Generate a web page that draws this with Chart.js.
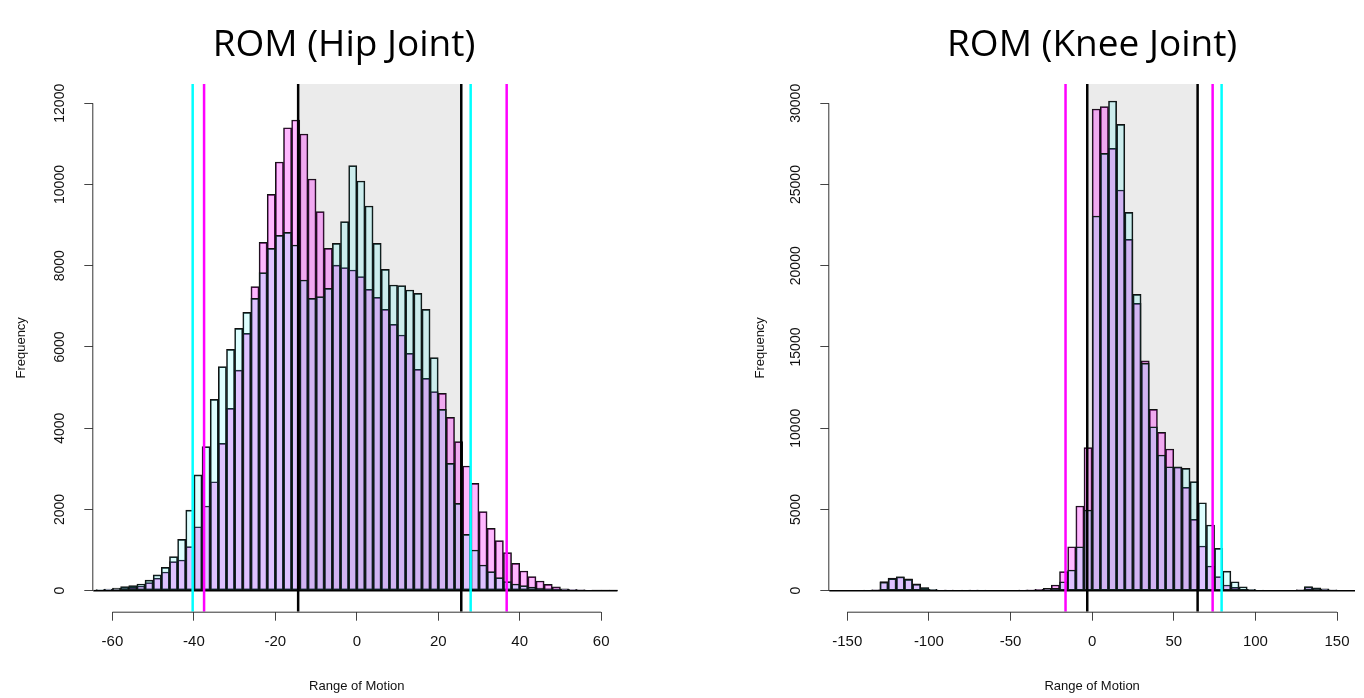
<!DOCTYPE html>
<html>
<head>
<meta charset="utf-8">
<title>ROM histograms</title>
<script src="https://cdn.jsdelivr.net/npm/chart.js@4.4.1/dist/chart.umd.min.js"></script>
<style>
    html, body { margin: 0; padding: 0; background: #fff; }
    #wrap { position: relative; width: 1364px; height: 698px; overflow: hidden; }
    .panel { position: absolute; top: 0; height: 698px; }
    #hipBox { left: 0; width: 688px; }
    #kneeBox { left: 736px; width: 628px; }
</style>
</head>
<body>
<div id="wrap">
    <div class="panel" id="hipBox"><canvas id="hipChart"></canvas></div>
    <div class="panel" id="kneeBox"><canvas id="kneeChart"></canvas></div>
</div>
<script>
// Hip joint: 2-degree bins starting at -66
const hipBinStart = -66;
const hipBinWidth = 2;
const hipCyan = [
    15, 25, 40, 65, 100, 125, 165, 260, 390, 575,
    840, 1265, 1985, 2850, 3545, 4710, 5515, 5940, 6458, 6852,
    7197, 7829, 8428, 8748, 8822, 8510, 7648, 7197, 7238, 7443,
    8551, 9085, 10463, 10085, 9470, 8551, 7911, 7525, 7509, 7402,
    7320, 6926, 5736, 4464, 3135, 2150, 1387, 1001, 632, 468,
    320, 222, 164, 123, 90, 66, 49, 41, 33, 25,
    20, 15, 10, 8, 5
];
const hipPink = [
    10, 15, 25, 30, 65, 80, 115, 200, 310, 460,
    715, 755, 1085, 1575, 2085, 2683, 3627, 4489, 5432, 6335,
    7484, 8575, 9757, 10553, 11398, 11587, 11242, 10135, 9331, 8428,
    8017, 7952, 7894, 7730, 7418, 7221, 6926, 6557, 6294, 5843,
    5449, 5227, 4899, 4858, 4267, 3668, 3069, 2642, 1945, 1535,
    1231, 936, 673, 484, 345, 238, 156, 98, 49, 30,
    20, 15, 10, 8, 5
];
const hipXTicks = [-60, -40, -20, 0, 20, 40, 60];
const hipYTicks = [0, 2000, 4000, 6000, 8000, 10000, 12000];
const hipBlackLines = [-14.4, 25.65];
const hipCyanLines = [-40.3, 27.96];
const hipPinkLines = [-37.5, 36.8];

// Knee joint: 5-degree bins starting at -165
const kneeBinStart = -165;
const kneeBinWidth = 5;
const kneeCyan = [
    10, 15, 15, 20, 25, 35, 60, 520, 740, 860,
    700, 400, 190, 90, 45, 35, 30, 35, 40, 35,
    30, 25, 25, 30, 35, 45, 60, 80, 140, 554,
    1272, 2708, 4965, 23061, 26918, 30139, 28703, 23287, 18240, 14000,
    10094, 8350, 7632, 7632, 7530, 6709, 5416, 4042, 2606, 1210,
    554, 246, 80, 40, 30, 25, 25, 30, 60, 250,
    170, 110, 50, 30, 20, 15
];
const kneePink = [
    10, 10, 15, 20, 25, 30, 50, 560, 780, 850,
    730, 420, 170, 60, 40, 35, 30, 30, 35, 30,
    30, 25, 25, 30, 40, 55, 80, 140, 350, 1170,
    2708, 5211, 8802, 29647, 29790, 27226, 24661, 21625, 17686, 14150,
    11161, 9745, 8720, 7600, 6360, 4391, 2749, 1518, 862, 349,
    205, 103, 50, 30, 25, 20, 20, 25, 50, 230,
    150, 90, 40, 25, 15, 10
];
const kneeXTicks = [-150, -100, -50, 0, 50, 100, 150];
const kneeYTicks = [0, 5000, 10000, 15000, 20000, 25000, 30000];
const kneeBlackLines = [-3.0, 64.6];
const kneeCyanLines = [79.3];
const kneePinkLines = [-16.3, 73.8];

const CYAN_FILL = 'rgba(0, 255, 255, 0.13)';
const PINK_FILL = 'rgba(255, 0, 255, 0.28)';
const AXIS_FONT = 'Liberation Sans, Arial, sans-serif';

// Grey band, zero baseline, reference lines and R-style axis lines
const romDecor = {
    id: 'romDecor',
    beforeDatasetsDraw(chart, args, opts) {
        const { ctx, chartArea: a, scales: { x, y } } = chart;
        const x0 = x.getPixelForValue(opts.band[0]);
        const x1 = x.getPixelForValue(opts.band[1]);
        const y0 = y.getPixelForValue(0);
        ctx.save();
        ctx.fillStyle = '#ebebeb';
        ctx.fillRect(x0, a.top, x1 - x0, y0 - a.top);
        ctx.restore();
    },
    afterDatasetsDraw(chart, args, opts) {
        const { ctx, chartArea: a, scales: { x, y } } = chart;
        ctx.save();
        ctx.beginPath();
        ctx.rect(a.left, a.top, a.right - a.left, a.bottom - a.top);
        ctx.clip();

        const y0 = y.getPixelForValue(0);
        ctx.strokeStyle = '#000';
        ctx.lineWidth = 1.5;
        ctx.beginPath();
        ctx.moveTo(x.getPixelForValue(opts.range[0]), y0);
        ctx.lineTo(x.getPixelForValue(opts.range[1]), y0);
        ctx.stroke();

        opts.lines.forEach(group => {
            ctx.strokeStyle = group.color;
            ctx.lineWidth = 2.5;
            group.values.forEach(v => {
                const px = x.getPixelForValue(v);
                ctx.beginPath();
                ctx.moveTo(px, a.top);
                ctx.lineTo(px, a.bottom);
                ctx.stroke();
            });
        });
        ctx.restore();
    },
    afterDraw(chart, args, opts) {
        const { ctx, chartArea: a, scales: { x, y } } = chart;
        ctx.save();
        ctx.strokeStyle = '#333';
        ctx.lineWidth = 1;
        ctx.beginPath();
        ctx.moveTo(x.getPixelForValue(opts.xTicks[0]), a.bottom + 0.5);
        ctx.lineTo(x.getPixelForValue(opts.xTicks[opts.xTicks.length - 1]), a.bottom + 0.5);
        ctx.moveTo(a.left - 0.5, y.getPixelForValue(opts.yTicks[0]));
        ctx.lineTo(a.left - 0.5, y.getPixelForValue(opts.yTicks[opts.yTicks.length - 1]));
        ctx.stroke();
        ctx.restore();
    }
};

function buildHistogram(canvasId, h) {
    const centers = h.cyan.map((_, i) => h.binStart + (i + 0.5) * h.binWidth);
    const toPoints = vals => vals.map((v, i) => ({ x: centers[i], y: v }));
    const barStyle = {
        xAxisID: 'x',
        yAxisID: 'y',
        borderColor: '#111',
        borderWidth: 1,
        borderSkipped: false,
        grouped: false,
        barPercentage: 1,
        categoryPercentage: 1
    };

    const scales = {
        x: {
            type: 'linear',
            min: h.xMin,
            max: h.xMax,
            offset: false,
            afterBuildTicks: s => { s.ticks = h.xTicks.map(v => ({ value: v })); },
            afterFit: s => { s.height = 86.3; },
            border: { display: false },
            grid: { offset: false, drawOnChartArea: false, drawTicks: true, tickLength: 9, color: '#444' },
            ticks: {
                autoSkip: false,
                maxRotation: 0,
                padding: 12,
                color: '#111',
                font: { family: AXIS_FONT, size: 15 },
                callback: v => String(v)
            },
            title: {
                display: true,
                text: 'Range of Motion',
                color: '#111',
                font: { family: AXIS_FONT, size: 13 },
                padding: { top: 0, bottom: 4 }
            }
        },
        y: {
            type: 'linear',
            position: 'left',
            min: h.yMin,
            max: h.yMax,
            afterBuildTicks: s => { s.ticks = h.yTicks.map(v => ({ value: v })); },
            afterFit: s => { s.width = h.yWidth; },
            border: { display: false },
            grid: { offset: false, drawOnChartArea: false, drawTicks: true, tickLength: 9, color: '#444' },
            ticks: {
                autoSkip: false,
                minRotation: 90,
                maxRotation: 90,
                crossAlign: 'center',
                padding: 5,
                color: '#111',
                font: { family: AXIS_FONT, size: 14 },
                callback: v => String(v)
            },
            title: {
                display: true,
                text: 'Frequency',
                color: '#111',
                font: { family: AXIS_FONT, size: 13 },
                padding: { top: h.yTitlePad, bottom: 0 }
            }
        }
    };

    // empty right-hand box, only so the full-width title sits where the original has it
    if (h.rightGap) {
        scales.gap = {
            type: 'linear',
            position: 'right',
            display: true,
            grid: { display: false },
            border: { display: false },
            ticks: { display: false },
            afterFit: s => { s.width = h.rightGap; }
        };
    }

    return new Chart(document.getElementById(canvasId), {
        type: 'bar',
        data: {
            datasets: [
                { label: 'cyan', data: toPoints(h.cyan), backgroundColor: CYAN_FILL, ...barStyle },
                { label: 'pink', data: toPoints(h.pink), backgroundColor: PINK_FILL, ...barStyle }
            ]
        },
        plugins: [romDecor],
        options: {
            responsive: true,
            maintainAspectRatio: false,
            animation: false,
            layout: { padding: h.padding },
            plugins: {
                legend: { display: false },
                tooltip: { enabled: false },
                title: {
                    display: true,
                    text: h.title,
                    fullSize: h.titleFullSize,
                    color: '#000',
                    font: { family: 'Open Sans, sans-serif', size: 37, weight: 'normal' },
                    padding: { top: 23, bottom: 16.6 }
                },
                romDecor: {
                    band: h.black,
                    range: [h.binStart, h.binStart + h.cyan.length * h.binWidth],
                    lines: [
                        { color: '#000', values: h.black },
                        { color: '#00ffff', values: h.cyanLines },
                        { color: '#ff00ff', values: h.pinkLines }
                    ],
                    xTicks: h.xTicks,
                    yTicks: h.yTicks
                }
            },
            scales
        }
    });
}

document.addEventListener('DOMContentLoaded', () => {
    buildHistogram('hipChart', {
        title: 'ROM (Hip Joint)',
        titleFullSize: true,
        binStart: hipBinStart,
        binWidth: hipBinWidth,
        cyan: hipCyan,
        pink: hipPink,
        xTicks: hipXTicks,
        yTicks: hipYTicks,
        black: hipBlackLines,
        cyanLines: hipCyanLines,
        pinkLines: hipPinkLines,
        xMin: -64.7, xMax: 64.7,
        yMin: -517, yMax: 12474,
        padding: { left: 0, right: 0, top: 0, bottom: 0 },
        yWidth: 93.3,
        rightGap: 67.7,
        yTitlePad: 13.9
    });

    buildHistogram('kneeChart', {
        title: 'ROM (Knee Joint)',
        titleFullSize: false,
        binStart: kneeBinStart,
        binWidth: kneeBinWidth,
        cyan: kneeCyan,
        pink: kneePink,
        xTicks: kneeXTicks,
        yTicks: kneeYTicks,
        black: kneeBlackLines,
        cyanLines: kneeCyanLines,
        pinkLines: kneePinkLines,
        xMin: -161, xMax: 161,
        yMin: -1292, yMax: 31187,
        padding: { left: 0, right: 9, top: 0, bottom: 0 },
        yWidth: 93.3,
        rightGap: 0,
        yTitlePad: 16.2
    });
});
</script>
</body>
</html>
